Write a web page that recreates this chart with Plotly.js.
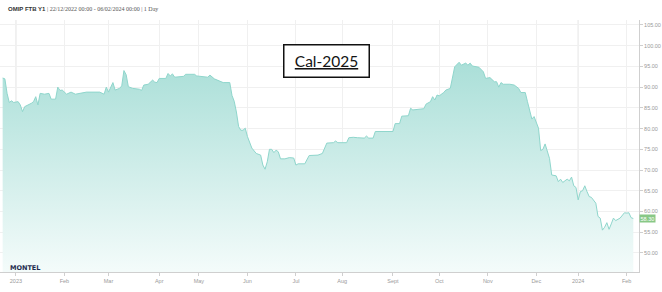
<!DOCTYPE html>
<html>
<head>
<meta charset="utf-8">
<script src="https://cdn.plot.ly/plotly-3.0.1.min.js"></script>
<style>html,body{margin:0;padding:0;background:#fff}#chart{width:662px;height:292px}</style>
</head>
<body>
<div id="chart"></div>
<script>
const dates = ['2022-12-22','2022-12-23','2022-12-27','2022-12-28','2022-12-29','2022-12-30',
'2023-01-03','2023-01-04','2023-01-05','2023-01-06','2023-01-11','2023-01-12','2023-01-13','2023-01-16','2023-01-17','2023-01-19','2023-01-23','2023-01-24','2023-01-26','2023-01-27','2023-01-30','2023-01-31',
'2023-02-02','2023-02-06','2023-02-08','2023-02-13','2023-02-15','2023-02-23','2023-02-27','2023-02-28',
'2023-03-01','2023-03-03','2023-03-06','2023-03-08','2023-03-09','2023-03-10','2023-03-13','2023-03-14','2023-03-16','2023-03-21','2023-03-22','2023-03-23','2023-03-27','2023-03-29','2023-03-30','2023-03-31',
'2023-04-03','2023-04-06','2023-04-11','2023-04-12','2023-04-13','2023-04-14','2023-04-20','2023-04-21','2023-04-27','2023-04-28',
'2023-05-04','2023-05-08','2023-05-09','2023-05-11','2023-05-17','2023-05-22','2023-05-23','2023-05-24','2023-05-25','2023-05-26','2023-05-29','2023-05-30','2023-05-31',
'2023-06-01','2023-06-05','2023-06-07','2023-06-09','2023-06-12','2023-06-13','2023-06-14','2023-06-15','2023-06-16','2023-06-19','2023-06-20','2023-06-21','2023-06-22','2023-06-26','2023-06-28','2023-06-30',
'2023-07-03','2023-07-04','2023-07-07','2023-07-11','2023-07-17','2023-07-19','2023-07-21','2023-07-26','2023-07-27','2023-07-28',
'2023-08-03','2023-08-04','2023-08-08','2023-08-10','2023-08-15','2023-08-16','2023-08-17','2023-08-21','2023-08-22',
'2023-09-01','2023-09-04','2023-09-06','2023-09-07','2023-09-12','2023-09-13','2023-09-14','2023-09-21','2023-09-22','2023-09-26','2023-09-27','2023-09-28','2023-09-29',
'2023-10-02','2023-10-04','2023-10-05','2023-10-09','2023-10-10','2023-10-11','2023-10-13','2023-10-16','2023-10-18','2023-10-19','2023-10-20','2023-10-23','2023-10-26','2023-10-30','2023-10-31',
'2023-11-02','2023-11-06','2023-11-07','2023-11-08','2023-11-09','2023-11-10','2023-11-15','2023-11-17','2023-11-21','2023-11-22','2023-11-24','2023-11-27','2023-11-29','2023-11-30',
'2023-12-01','2023-12-04','2023-12-05','2023-12-06','2023-12-07','2023-12-11','2023-12-12','2023-12-14','2023-12-15','2023-12-18','2023-12-19','2023-12-21','2023-12-22','2023-12-27','2023-12-28','2023-12-29',
'2024-01-02','2024-01-03','2024-01-04','2024-01-05','2024-01-08','2024-01-09','2024-01-10','2024-01-12','2024-01-15','2024-01-16','2024-01-17','2024-01-18','2024-01-19','2024-01-22','2024-01-23','2024-01-24','2024-01-25','2024-01-26','2024-01-29','2024-01-31',
'2024-02-01','2024-02-02','2024-02-05','2024-02-06'];

const prices = [92.2,92.0,88.5,86.3,86.7,86.3,
86.5,85.7,84.1,85.3,86.1,86.5,87.7,85.7,88.5,88.3,88.5,87.1,87.1,90.0,89.2,89.3,
88.3,88.8,88.3,88.5,88.8,88.8,88.3,90.0,
88.8,91.1,89.3,89.7,90.3,94.0,93.0,90.1,89.7,89.5,89.2,90.5,90.7,91.7,91.2,91.1,
92.1,92.1,93.3,92.7,93.2,92.4,92.6,93.1,93.1,92.7,
92.6,92.4,92.9,92.0,91.1,91.1,88.0,86.6,84.0,80.5,79.6,79.6,80.1,
78.1,75.3,74.0,73.6,71.2,70.2,72.0,75.0,75.0,74.2,74.8,74.4,72.7,72.7,73.0,72.9,
71.2,71.5,71.5,73.5,73.6,74.0,76.5,76.6,77.0,76.6,
76.6,77.8,77.9,77.8,77.7,78.2,77.7,77.7,79.3,
79.3,81.2,81.2,83.0,83.1,84.9,84.5,84.8,85.9,86.5,87.7,86.9,88.1,
87.9,88.7,89.3,89.7,92.5,94.9,96.0,95.3,95.8,95.3,95.8,95.1,94.8,93.7,92.1,
92.3,91.3,91.3,90.0,91.1,90.7,90.7,90.5,89.7,88.7,88.7,86.5,82.3,82.9,
81.3,80.1,74.7,75.0,76.3,72.8,68.8,68.6,67.2,67.8,67.0,67.8,67.4,68.3,66.2,65.8,
62.8,64.8,65.0,66.2,64.8,63.6,63.4,62.0,58.8,58.4,55.5,56.2,57.3,55.7,57.0,58.4,57.8,58.1,58.4,59.7,
59.6,59.7,58.5,58.3];

const holidays = ['2022-12-26','2023-04-07','2023-04-10','2023-05-01','2023-12-25','2023-12-26','2024-01-01'];
const monthTicks = ['2023-01-02','2023-02-01','2023-03-01','2023-04-03','2023-05-02','2023-06-01','2023-07-03','2023-08-01','2023-09-01','2023-10-02','2023-11-01','2023-12-01','2024-01-02','2024-02-01'];
const monthLabels = ['2023','Feb','Mar','Apr','May','Jun','Jul','Aug','Sept','Oct','Nov','Dec','2024','Feb'];
const yearTicks = ['2023-01-02','2024-01-02'];
const yTicks = [50,55,60,65,70,75,80,85,90,95,100,105];
const titleMain = 'OMIP FTB Y1';
const titleRest = ' | 22/12/2022 00:00 - 06/02/2024 00:00 | 1 Day';
const boxLabel = 'Cal-2025';
const logoText = 'MONTEL';

const lastPrice = prices[prices.length - 1];

const trace = {
  x: dates, y: prices, type: 'scatter', mode: 'lines',
  line: {color: '#8fd6cc', width: 1},
  fill: 'tozeroy',
  fillgradient: {type: 'vertical', start: 46, stop: 96,
    colorscale: [[0, '#f3fbfa'], [1, '#aadfd8']]},
  hoverinfo: 'skip'
};

const tickFont = {family: 'Liberation Sans Narrow, Liberation Sans, sans-serif', size: 5.5, color: '#9a9a9a'};

const layout = {
  width: 662, height: 292,
  margin: {l: 0, r: 23, t: 20, b: 20, pad: 0},
  paper_bgcolor: '#ffffff', plot_bgcolor: '#ffffff',
  showlegend: false,
  xaxis: {
    type: 'date',
    range: ['2022-12-20 19:00', '2024-02-08 14:00'],
    rangebreaks: [{bounds: ['sat', 'mon']}, {values: holidays}],
    tickmode: 'array', tickvals: monthTicks, ticktext: monthLabels,
    showgrid: true, gridcolor: '#f0f0f0', gridwidth: 1,
    showline: true, linecolor: '#cfcfcf', linewidth: 1,
    ticks: 'outside', ticklen: 3, tickcolor: '#cfcfcf',
    tickfont: tickFont, zeroline: false, fixedrange: true
  },
  yaxis: {
    side: 'right',
    range: [45.4, 106.2],
    tickmode: 'array', tickvals: yTicks, tickformat: '.2f',
    showgrid: true, gridcolor: '#f0f0f0', gridwidth: 1,
    showline: true, linecolor: '#cfcfcf', linewidth: 1,
    ticks: 'outside', ticklen: 3, tickcolor: '#cfcfcf',
    tickfont: tickFont, zeroline: false, fixedrange: true
  },
  shapes: yearTicks.map(d => ({type: 'line', xref: 'x', yref: 'paper', x0: d, x1: d, y0: 0, y1: 1,
    line: {color: '#dcdcdc', width: 1}, layer: 'below'})),
  annotations: [
    {xref: 'paper', yref: 'paper', x: 6/639, y: (272-9)/252, xanchor: 'left', yanchor: 'middle',
     showarrow: false,
     text: '<span style="font-family:Liberation Sans;font-weight:bold;fill:#333">' + titleMain + '</span>' + titleRest,
     font: {family: 'Liberation Serif, serif', size: 6, color: '#555'}},
    {xref: 'paper', yref: 'paper', x: 326/639, y: (272-61)/252, xanchor: 'center', yanchor: 'middle',
     showarrow: false, text: '<u>' + boxLabel + '</u>',
     width: 84, height: 31, align: 'center', valign: 'middle',
     bgcolor: '#ffffff', bordercolor: '#111111', borderwidth: 1.5, borderpad: 0,
     font: {family: 'Lato, Noto Sans, sans-serif', size: 15.5, color: '#141414'}},
    {xref: 'paper', yref: 'y', x: 1, y: lastPrice, xanchor: 'left', yanchor: 'middle',
     showarrow: false, text: lastPrice.toFixed(2), xshift: 0,
     bgcolor: '#88c886', borderpad: 0.5,
     font: {family: 'Liberation Sans Narrow, Liberation Sans, sans-serif', size: 5.5, color: '#ffffff'}},
    {xref: 'paper', yref: 'paper', x: 8/639, y: (272-267.5)/252, xanchor: 'left', yanchor: 'middle',
     showarrow: false, text: '<b>' + logoText + '</b>',
     font: {family: 'DejaVu Sans, sans-serif', size: 6.5, color: '#1d2c4f'}}
  ]
};

Plotly.newPlot('chart', [trace], layout, {displayModeBar: false, staticPlot: true});
</script>
</body>
</html>
